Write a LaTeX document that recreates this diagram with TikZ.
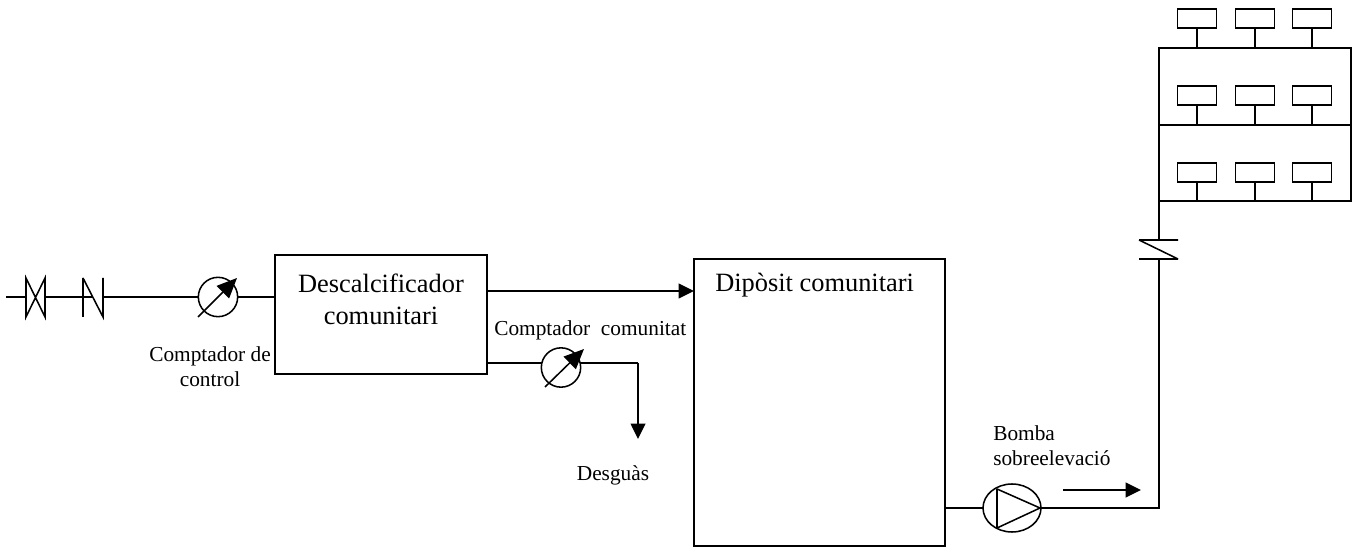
\documentclass[tikz,border=0pt]{standalone}
\usepackage{fontspec}
\setmainfont{Liberation Serif}
\usetikzlibrary{arrows.meta,shapes.geometric,calc}
\tikzset{
  line/.style={draw=black,line width=1.15pt},
  flow/.style={line,-{Triangle[length=11.5pt,width=11pt]},shorten >=0pt},
  gauge/.style={line,-{Triangle[length=15pt,width=13pt]}},
  boxn/.style={line,rectangle,inner sep=0pt,outer sep=0pt,fill=white},
  fixture/.style={boxn,minimum width=29.25pt,minimum height=14.5pt},
  meter/.style={line,circle,inner sep=0pt,outer sep=0pt,minimum size=29.5pt,fill=white},
  lab/.style={font=\fontsize{16}{18.75}\selectfont,align=center,inner sep=0pt},
  big/.style={font=\fontsize{19.8}{24}\selectfont,align=center,inner sep=0pt}
}
\begin{document}
\begin{tikzpicture}[x=0.75pt,y=-0.75pt]
\useasboundingbox (0,0) rectangle (1352,548);
% boxes
\node[boxn,minimum width=159pt,minimum height=89.25pt] (desc) at (381,314.5) {};
\node[boxn,minimum width=188.25pt,minimum height=215.25pt] (dip) at (819.5,402.5) {};
\node[big] (desct) at (381,299) {Descalcificador\\comunitari};
\node[big,anchor=west] (dipt) at (715,285) {Dipòsit comunitari};
% inlet
\coordinate (in) at (6,297);
\coordinate (descin) at (desc.west |- in);
\draw[line] (in) -- (descin);
\node[meter] (m1) at (218,297) {};
\draw[line,fill=white] (26,278) -- (26,317) -- (45,278) -- (45,317) -- cycle;
\draw[line,fill=white] (83,278) -- (83,317) (83,278) -- (103,317) -- (103,278);
\draw[gauge] (198,317) -- (237,278);
% outputs
\coordinate (dout) at (desc.east |- 0,291);
\coordinate (dipin) at (dip.west |- dout);
\draw[flow] (dout) -- (dipin);
\coordinate (d2) at (desc.east |- 0,363);
\coordinate (turn) at (638,363);
\coordinate (drain) at (638,439);
\draw[line] (d2) -- (turn);
\draw[flow] (turn) -- (drain);
\node[meter] (m2) at (561,367.5) {};
\draw[gauge] (545,387) -- (584,349);
% pump line
\coordinate (pout) at (dip.east |- 0,508);
\coordinate (corner) at (1159,508);
\coordinate (tb) at (1159,259);
\coordinate (tt) at (1159,240);
\coordinate (bldg) at (1159,201);
\draw[line] (pout) -- (corner) -- (tb);
\draw[line] (tt) -- (bldg);
\node[line,ellipse,inner sep=0pt,outer sep=0pt,minimum width=43.5pt,minimum height=36pt,fill=white] (pump) at (1012,508) {};
\draw[line,line join=round] (997,489) -- (997,528) -- (1040,508) -- cycle;
\coordinate (a1) at (1063,490);
\coordinate (a2) at (1141,490);
\draw[flow] (a1) -- (a2);
% check valve
\draw[line] (1139,240) -- (1178,240) (1139,240) -- (1178,259) (1139,259) -- (1178,259);
% building
\draw[line] (1159,48) rectangle (1351,125);
\draw[line] (1159,125) rectangle (1351,201);
\foreach \r/\y/\b in {a/18.5/48,b/95.5/125,c/172.5/201}{
  \foreach \c/\x in {1/1197,2/1255,3/1312}{
    \node[fixture] (f\r\c) at (\x,\y) {};
    \coordinate (g\r\c) at (\x,\b);
    \draw[line] (f\r\c.south) -- (g\r\c);
  }
}
% labels
\node[lab] (l1) at (210,367) {Comptador de\\control};
\node[lab,anchor=west] (l2) at (494,330) {Comptador\hspace{0.25em} comunitat};
\node[lab] (l3) at (613,475) {Desguàs};
\node[lab,align=left,anchor=west] (l4) at (993,446) {Bomba\\sobreelevació};
\end{tikzpicture}
\end{document}
